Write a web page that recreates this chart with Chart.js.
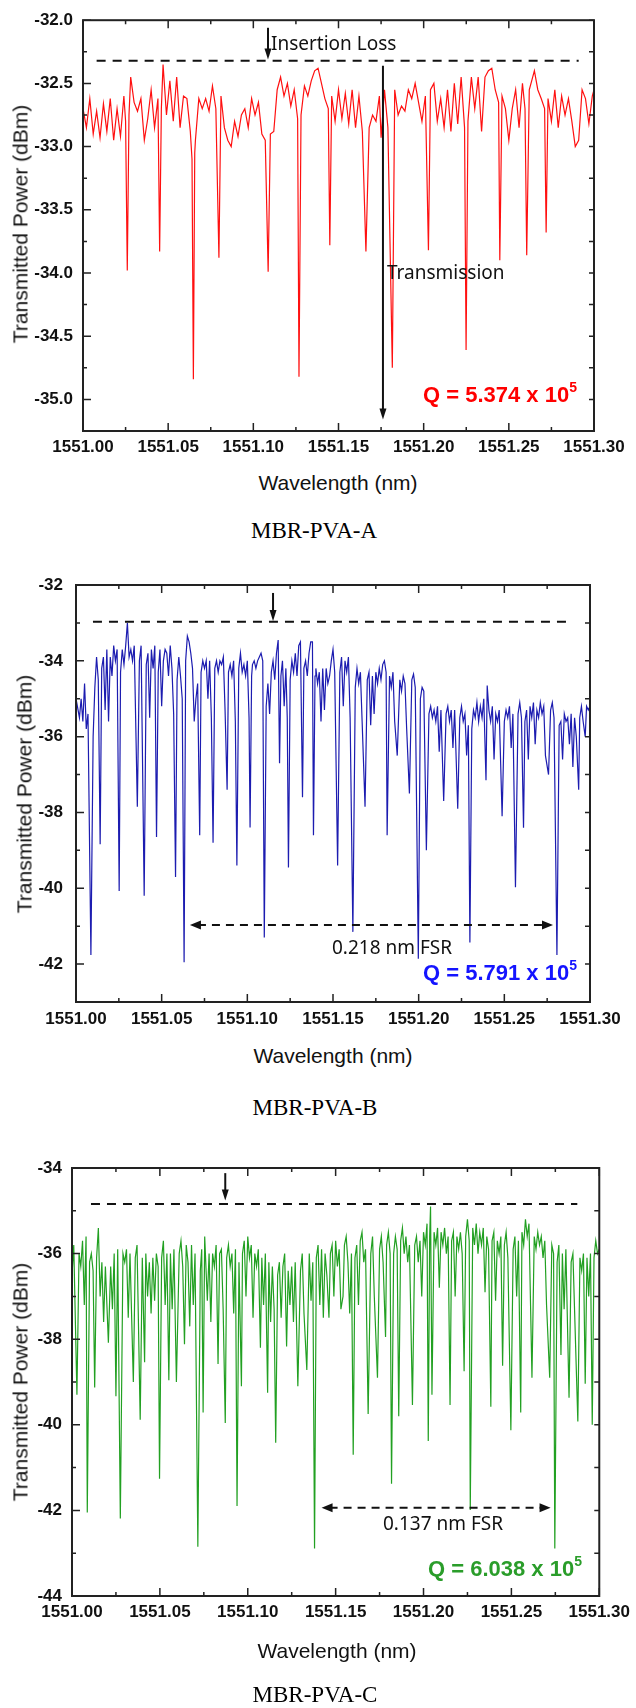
<!DOCTYPE html>
<html>
<head>
<meta charset="utf-8">
<script src="https://cdn.jsdelivr.net/npm/chart.js@4/dist/chart.umd.min.js"></script>
<style>
  body { margin: 0; width: 636px; height: 1708px; position: relative; background: #fff; overflow: hidden; }
  canvas { position: absolute; left: 0; }
  .txt { position: absolute; white-space: nowrap; line-height: 1; }
  .title { font-family: "Liberation Sans", Arial, sans-serif; font-size: 21px; color: #111; }
  .caption { font-family: "Liberation Serif", "Times New Roman", serif; font-size: 23px; color: #000; }
  .note { font-family: "Noto Sans", "Open Sans", sans-serif; font-size: 19px; color: #111; }
  .q { font-family: "Liberation Sans", Arial, sans-serif; font-size: 22px; font-weight: bold; }
  .q sup { font-size: 14px; position: relative; top: -2px; }
</style>
</head>
<body>
<canvas id="panelA" width="636" height="470" style="top:0px"></canvas>
<canvas id="panelB" width="636" height="480" style="top:560px"></canvas>
<canvas id="panelC" width="636" height="500" style="top:1140px"></canvas>
<script>
// ---- data ----
const xTickValues = [1551.00, 1551.05, 1551.10, 1551.15, 1551.20, 1551.25, 1551.30];
const yTicksA = [-35.0, -34.5, -34.0, -33.5, -33.0, -32.5, -32.0];
const yTicksB = [-42, -40, -38, -36, -34, -32];
const yTicksC = [-44, -42, -40, -38, -36, -34];

// MBR-PVA-A
const wavelengthA = [
  1551.000, 1551.002, 1551.004, 1551.006, 1551.008, 1551.010, 1551.012, 1551.014, 1551.016, 1551.018,
  1551.020, 1551.022, 1551.024, 1551.025, 1551.026, 1551.027, 1551.028, 1551.030, 1551.032, 1551.034,
  1551.036, 1551.038, 1551.040, 1551.042, 1551.044, 1551.045, 1551.046, 1551.047, 1551.049, 1551.051,
  1551.053, 1551.055, 1551.057, 1551.059, 1551.061, 1551.063, 1551.0640, 1551.0648, 1551.0656, 1551.066,
  1551.068, 1551.070, 1551.072, 1551.074, 1551.076, 1551.078, 1551.0798, 1551.081, 1551.083, 1551.085,
  1551.087, 1551.089, 1551.091, 1551.093, 1551.095, 1551.097, 1551.099, 1551.101, 1551.103, 1551.105,
  1551.107, 1551.1087, 1551.110, 1551.112, 1551.114, 1551.116, 1551.118, 1551.120, 1551.122, 1551.124,
  1551.126, 1551.1268, 1551.128, 1551.130, 1551.132, 1551.134, 1551.136, 1551.138, 1551.140, 1551.142,
  1551.144, 1551.1449, 1551.146, 1551.148, 1551.150, 1551.152, 1551.154, 1551.156, 1551.158, 1551.160,
  1551.162, 1551.164, 1551.1661, 1551.168, 1551.170, 1551.172, 1551.174, 1551.175, 1551.177, 1551.179,
  1551.1816, 1551.183, 1551.185, 1551.187, 1551.189, 1551.191, 1551.193, 1551.195, 1551.197, 1551.199,
  1551.201, 1551.2028, 1551.204, 1551.206, 1551.208, 1551.210, 1551.212, 1551.214, 1551.216, 1551.218,
  1551.220, 1551.222, 1551.224, 1551.2249, 1551.226, 1551.228, 1551.230, 1551.232, 1551.234, 1551.236,
  1551.238, 1551.240, 1551.242, 1551.244, 1551.2447, 1551.246, 1551.248, 1551.250, 1551.252, 1551.254,
  1551.256, 1551.258, 1551.2595, 1551.2605, 1551.262, 1551.264, 1551.265, 1551.267, 1551.269, 1551.271,
  1551.2719, 1551.273, 1551.275, 1551.277, 1551.279, 1551.281, 1551.283, 1551.285, 1551.287, 1551.289,
  1551.291, 1551.293, 1551.295, 1551.297, 1551.299, 1551.300
];
const powerA = [
  -32.70, -32.85, -32.62, -32.90, -32.72, -32.93, -32.66, -32.88, -32.62, -32.95,
  -32.70, -32.92, -32.60, -32.80, -33.98, -32.75, -32.45, -32.65, -32.72, -32.62,
  -32.95, -32.78, -32.55, -32.85, -32.62, -33.83, -32.70, -32.35, -32.75, -32.48,
  -32.80, -32.45, -32.85, -32.60, -32.62, -32.88, -33.10, -34.84, -33.05, -32.95,
  -32.62, -32.70, -32.62, -32.72, -32.52, -32.70, -33.88, -32.60, -32.85, -32.95,
  -33.00, -32.80, -32.92, -32.75, -32.70, -32.85, -32.62, -32.75, -32.65, -32.90,
  -32.95, -33.99, -32.90, -32.88, -32.55, -32.45, -32.60, -32.50, -32.68, -32.55,
  -32.78, -34.82, -32.75, -32.52, -32.60, -32.48, -32.40, -32.38, -32.50, -32.62,
  -32.70, -33.78, -32.60, -32.80, -32.55, -32.78, -32.58, -32.82, -32.55, -32.85,
  -32.60, -32.88, -33.83, -32.85, -32.75, -32.80, -32.60, -32.93, -32.55, -32.85,
  -34.75, -32.55, -32.75, -32.68, -32.72, -32.55, -32.62, -32.50, -32.65, -32.80,
  -32.60, -33.82, -32.55, -32.50, -32.80, -32.62, -32.85, -32.55, -32.88, -32.50,
  -32.82, -32.45, -32.85, -34.61, -32.80, -32.45, -32.70, -32.45, -32.88, -32.45,
  -32.40, -32.38, -32.55, -32.65, -33.90, -32.60, -32.70, -32.95, -32.70, -32.55,
  -32.85, -32.50, -32.70, -33.86, -32.55, -32.45, -32.40, -32.55, -32.62, -32.70,
  -33.68, -32.62, -32.80, -32.55, -32.85, -32.60, -32.75, -32.62, -32.80, -33.00,
  -32.95, -32.55, -32.62, -32.82, -32.60, -32.55
];

// MBR-PVA-B
const wavelengthB = [
  1551.000, 1551.002, 1551.003, 1551.004, 1551.005, 1551.006, 1551.007, 1551.0087, 1551.010, 1551.011,
  1551.012, 1551.013, 1551.0141, 1551.015, 1551.016, 1551.017, 1551.018, 1551.019, 1551.020, 1551.021,
  1551.022, 1551.023, 1551.024, 1551.0252, 1551.026, 1551.027, 1551.028, 1551.029, 1551.030, 1551.031,
  1551.032, 1551.033, 1551.034, 1551.0358, 1551.037, 1551.038, 1551.0398, 1551.041, 1551.042, 1551.043,
  1551.044, 1551.045, 1551.046, 1551.047, 1551.048, 1551.049, 1551.050, 1551.051, 1551.052, 1551.053,
  1551.054, 1551.055, 1551.056, 1551.057, 1551.0581, 1551.059, 1551.060, 1551.061, 1551.062, 1551.0631,
  1551.064, 1551.065, 1551.066, 1551.067, 1551.068, 1551.069, 1551.070, 1551.071, 1551.0722, 1551.073,
  1551.074, 1551.075, 1551.076, 1551.077, 1551.078, 1551.079, 1551.080, 1551.081, 1551.082, 1551.083,
  1551.084, 1551.085, 1551.086, 1551.087, 1551.0882, 1551.089, 1551.090, 1551.091, 1551.092, 1551.093,
  1551.0939, 1551.095, 1551.096, 1551.097, 1551.098, 1551.099, 1551.100, 1551.101, 1551.1016, 1551.1025,
  1551.103, 1551.104, 1551.105, 1551.106, 1551.107, 1551.108, 1551.109, 1551.1099, 1551.111, 1551.112,
  1551.113, 1551.114, 1551.115, 1551.116, 1551.117, 1551.118, 1551.1188, 1551.1196, 1551.1205, 1551.1215,
  1551.1225, 1551.1233, 1551.124, 1551.125, 1551.126, 1551.127, 1551.128, 1551.129, 1551.130, 1551.131,
  1551.1322, 1551.133, 1551.134, 1551.135, 1551.136, 1551.137, 1551.138, 1551.1386, 1551.1395, 1551.140,
  1551.141, 1551.142, 1551.143, 1551.144, 1551.145, 1551.146, 1551.147, 1551.148, 1551.149, 1551.150,
  1551.151, 1551.1527, 1551.154, 1551.155, 1551.156, 1551.157, 1551.158, 1551.159, 1551.160, 1551.1616,
  1551.163, 1551.164, 1551.165, 1551.166, 1551.167, 1551.1687, 1551.170, 1551.171, 1551.172, 1551.173,
  1551.174, 1551.175, 1551.176, 1551.177, 1551.178, 1551.179, 1551.180, 1551.181, 1551.1816, 1551.183,
  1551.184, 1551.185, 1551.186, 1551.1875, 1551.189, 1551.190, 1551.191, 1551.192, 1551.193, 1551.1946,
  1551.196, 1551.197, 1551.198, 1551.1998, 1551.201, 1551.202, 1551.203, 1551.2045, 1551.206, 1551.207,
  1551.208, 1551.209, 1551.210, 1551.211, 1551.212, 1551.213, 1551.2146, 1551.216, 1551.217, 1551.218,
  1551.219, 1551.220, 1551.221, 1551.2228, 1551.224, 1551.225, 1551.226, 1551.227, 1551.228, 1551.229,
  1551.2299, 1551.231, 1551.232, 1551.233, 1551.234, 1551.235, 1551.236, 1551.237, 1551.238, 1551.2393,
  1551.240, 1551.241, 1551.242, 1551.243, 1551.244, 1551.245, 1551.246, 1551.247, 1551.2487, 1551.250,
  1551.251, 1551.252, 1551.253, 1551.254, 1551.255, 1551.2565, 1551.258, 1551.259, 1551.260, 1551.2612,
  1551.262, 1551.263, 1551.264, 1551.265, 1551.266, 1551.267, 1551.268, 1551.269, 1551.270, 1551.271,
  1551.272, 1551.273, 1551.274, 1551.2758, 1551.277, 1551.278, 1551.279, 1551.2807, 1551.282, 1551.283,
  1551.284, 1551.285, 1551.286, 1551.287, 1551.288, 1551.289, 1551.290, 1551.291, 1551.292, 1551.2934,
  1551.294, 1551.295, 1551.296, 1551.2972, 1551.298, 1551.299, 1551.300
];
const powerB = [
  -35.0, -35.5, -35.0, -35.6, -34.6, -35.8, -35.4, -41.76, -36.0, -34.7,
  -33.9, -34.5, -38.84, -34.2, -33.9, -35.3, -33.7, -35.6, -33.9, -34.4,
  -33.6, -34.0, -33.7, -40.07, -34.3, -33.7, -34.1, -33.6, -33.0, -33.9,
  -33.7, -34.0, -33.6, -37.85, -34.0, -33.6, -40.2, -34.1, -33.8, -35.5,
  -33.7, -34.2, -33.6, -38.65, -34.3, -33.7, -35.2, -34.0, -33.7, -33.8,
  -34.4, -33.6, -34.2, -35.4, -39.7, -34.5, -33.9, -34.4, -35.0, -41.95,
  -34.0, -33.35, -33.5, -33.8, -34.2, -35.6, -35.0, -34.6, -38.6, -34.3,
  -34.0, -34.2, -34.0, -35.0, -34.0, -35.5, -38.8, -34.2, -34.0, -34.3,
  -34.0, -34.1, -33.9, -35.3, -37.4, -34.3, -34.1, -34.4, -34.0, -35.6,
  -39.4, -34.2, -33.8, -34.3, -34.1, -34.4, -34.0, -35.5, -38.4, -34.4,
  -34.1, -34.0, -34.2, -34.0, -33.9, -33.8, -34.0, -41.3, -35.2, -34.6,
  -35.4, -34.3, -34.0, -34.5, -33.8, -33.45, -36.7, -34.4, -34.0, -35.2,
  -34.2, -35.5, -39.45, -34.5, -34.0, -34.3, -33.8, -34.4, -33.6, -33.5,
  -37.6, -34.2, -34.0, -34.4, -33.8, -33.5, -33.5, -38.6, -34.4, -34.2,
  -34.6, -34.3, -35.6, -34.2, -35.3, -34.2, -34.6, -34.4, -34.0, -33.7,
  -34.3, -39.4, -34.3, -33.9, -35.2, -34.0, -34.3, -33.9, -35.5, -41.15,
  -34.7, -34.2, -34.6, -34.3, -35.6, -37.85, -34.5, -34.3, -35.7, -34.4,
  -35.4, -34.3, -34.6, -34.2, -34.5, -34.1, -34.0, -34.3, -38.6, -34.4,
  -34.7, -34.3, -35.6, -36.5, -34.5, -34.8, -34.4, -34.6, -35.8, -37.5,
  -34.5, -34.35, -34.7, -41.86, -35.0, -34.7, -34.8, -39.0, -35.4, -35.2,
  -35.5, -35.3, -35.6, -35.2, -36.4, -35.3, -37.7, -35.4, -35.2, -35.6,
  -35.3, -36.3, -35.3, -37.9, -35.5, -35.2, -35.6, -35.4, -36.5, -35.7,
  -41.43, -35.8, -35.3, -35.5, -35.1, -35.6, -35.2, -35.5, -35.0, -37.15,
  -34.65, -35.3, -35.6, -35.2, -36.6, -35.4, -35.6, -35.3, -38.1, -35.6,
  -35.3, -35.5, -35.2, -36.3, -35.4, -39.97, -35.4, -35.1, -35.5, -38.4,
  -35.6, -35.3, -36.6, -35.2, -35.5, -35.1, -36.2, -35.3, -35.5, -35.1,
  -35.4, -35.2, -36.5, -37.0, -35.3, -35.1, -35.5, -41.76, -35.7, -35.6,
  -36.6, -35.4, -35.6, -35.5, -36.2, -35.4, -36.8, -35.5, -36.0, -37.4,
  -35.5, -35.2, -35.6, -36.0, -35.2, -35.3, -35.2
];

// MBR-PVA-C
const wavelengthC = [
  1551.000, 1551.001, 1551.0028, 1551.004, 1551.005, 1551.006, 1551.007, 1551.008, 1551.0087, 1551.010,
  1551.011, 1551.012, 1551.0129, 1551.014, 1551.015, 1551.016, 1551.017, 1551.018, 1551.019, 1551.0207,
  1551.022, 1551.023, 1551.024, 1551.025, 1551.026, 1551.0275, 1551.029, 1551.030, 1551.031, 1551.032,
  1551.033, 1551.0349, 1551.036, 1551.037, 1551.0388, 1551.040, 1551.0413, 1551.042, 1551.043, 1551.044,
  1551.045, 1551.046, 1551.047, 1551.048, 1551.049, 1551.0498, 1551.051, 1551.052, 1551.053, 1551.054,
  1551.0551, 1551.056, 1551.057, 1551.058, 1551.0594, 1551.061, 1551.062, 1551.063, 1551.064, 1551.065,
  1551.066, 1551.067, 1551.068, 1551.069, 1551.070, 1551.0716, 1551.073, 1551.0738, 1551.0746, 1551.0755,
  1551.077, 1551.078, 1551.079, 1551.080, 1551.081, 1551.082, 1551.0831, 1551.084, 1551.085, 1551.086,
  1551.0872, 1551.088, 1551.089, 1551.090, 1551.091, 1551.092, 1551.093, 1551.0939, 1551.095, 1551.0964,
  1551.097, 1551.098, 1551.099, 1551.100, 1551.101, 1551.102, 1551.103, 1551.104, 1551.105, 1551.106,
  1551.1072, 1551.108, 1551.109, 1551.110, 1551.1113, 1551.112, 1551.113, 1551.114, 1551.115, 1551.1159,
  1551.117, 1551.118, 1551.119, 1551.120, 1551.121, 1551.1221, 1551.123, 1551.124, 1551.125, 1551.126,
  1551.127, 1551.1285, 1551.130, 1551.131, 1551.132, 1551.1336, 1551.135, 1551.136, 1551.137, 1551.138,
  1551.139, 1551.140, 1551.141, 1551.142, 1551.143, 1551.144, 1551.145, 1551.1462, 1551.147, 1551.148,
  1551.149, 1551.150, 1551.151, 1551.152, 1551.153, 1551.1542, 1551.155, 1551.156, 1551.157, 1551.158,
  1551.159, 1551.160, 1551.161, 1551.162, 1551.163, 1551.164, 1551.165, 1551.166, 1551.167, 1551.1685,
  1551.170, 1551.171, 1551.172, 1551.1738, 1551.175, 1551.176, 1551.177, 1551.1784, 1551.179, 1551.180,
  1551.181, 1551.1818, 1551.183, 1551.184, 1551.185, 1551.1859, 1551.187, 1551.188, 1551.189, 1551.190,
  1551.191, 1551.192, 1551.1937, 1551.195, 1551.196, 1551.197, 1551.198, 1551.199, 1551.200, 1551.201,
  1551.202, 1551.2027, 1551.2035, 1551.204, 1551.2048, 1551.206, 1551.207, 1551.208, 1551.209, 1551.210,
  1551.211, 1551.212, 1551.213, 1551.214, 1551.2151, 1551.216, 1551.217, 1551.218, 1551.219, 1551.220,
  1551.221, 1551.222, 1551.2231, 1551.224, 1551.225, 1551.226, 1551.2266, 1551.228, 1551.229, 1551.230,
  1551.231, 1551.232, 1551.233, 1551.234, 1551.235, 1551.236, 1551.237, 1551.2383, 1551.239, 1551.240,
  1551.241, 1551.242, 1551.243, 1551.244, 1551.245, 1551.246, 1551.247, 1551.248, 1551.2497, 1551.251,
  1551.252, 1551.253, 1551.254, 1551.2553, 1551.256, 1551.257, 1551.258, 1551.259, 1551.260, 1551.2617,
  1551.263, 1551.264, 1551.265, 1551.266, 1551.267, 1551.268, 1551.269, 1551.270, 1551.2718, 1551.273,
  1551.274, 1551.2747, 1551.276, 1551.277, 1551.2782, 1551.279, 1551.280, 1551.281, 1551.2828, 1551.284,
  1551.285, 1551.286, 1551.2878, 1551.289, 1551.290, 1551.291, 1551.292, 1551.293, 1551.294, 1551.295,
  1551.296, 1551.297, 1551.298, 1551.299, 1551.300
];
const powerC = [
  -36.5, -35.8, -39.3, -36.0, -36.3, -35.7, -37.2, -35.6, -42.05, -36.2,
  -36.0, -36.4, -39.13, -36.1, -35.4, -37.0, -36.2, -37.6, -36.3, -38.08,
  -36.3, -37.3, -36.0, -39.33, -35.9, -42.19, -36.0, -36.2, -35.9, -37.5,
  -36.0, -39.0, -36.1, -35.8, -39.88, -36.1, -38.54, -36.0, -37.0, -36.2,
  -37.4, -36.1, -37.1, -36.0, -36.3, -41.26, -36.1, -35.7, -37.2, -36.0,
  -38.96, -36.0, -37.3, -35.9, -39.0, -36.0, -35.7, -36.3, -38.12, -35.8,
  -36.2, -37.7, -35.8, -37.2, -36.0, -42.85, -36.4, -35.9, -39.71, -35.6,
  -37.1, -36.0, -37.6, -36.0, -36.3, -35.8, -38.58, -36.0, -35.9, -37.3,
  -39.96, -36.1, -35.8, -36.3, -36.0, -37.4, -35.9, -41.9, -36.2, -39.1,
  -36.0, -35.7, -37.0, -35.6, -36.1, -35.8, -37.5, -36.0, -36.3, -35.9,
  -38.2, -36.1, -37.2, -36.0, -39.25, -36.2, -37.6, -36.3, -37.3, -40.42,
  -36.5, -36.2, -37.5, -36.3, -36.0, -38.17, -36.4, -37.2, -36.3, -37.6,
  -36.2, -39.1, -36.4, -36.0, -37.4, -38.72, -36.0, -37.1, -36.2, -42.89,
  -36.1, -35.8, -37.2, -35.9, -37.5, -36.0, -36.5, -37.5, -36.0, -35.8,
  -37.0, -35.7, -36.3, -35.9, -37.3, -37.0, -35.8, -35.6, -36.2, -37.4,
  -36.0, -40.7, -36.1, -35.8, -37.2, -35.7, -35.5, -36.2, -35.9, -39.75,
  -36.0, -35.6, -37.0, -38.9, -35.9, -35.6, -36.2, -37.95, -35.8, -35.5,
  -36.0, -41.38, -36.0, -35.6, -35.9, -39.8, -35.7, -35.4, -36.0, -35.6,
  -36.2, -35.8, -39.54, -35.8, -35.6, -36.2, -35.7, -37.0, -35.5, -35.8,
  -35.3, -40.38, -35.6, -34.9, -39.3, -35.5, -35.8, -35.4, -36.8, -35.5,
  -35.8, -35.4, -36.0, -35.6, -39.54, -35.7, -35.5, -37.0, -35.6, -35.9,
  -35.5, -36.0, -38.75, -35.6, -35.2, -35.7, -41.99, -35.4, -35.8, -35.3,
  -36.0, -35.5, -35.8, -35.4, -36.9, -35.6, -35.9, -39.58, -35.7, -35.5,
  -37.1, -35.7, -36.0, -35.6, -38.62, -35.8, -35.5, -36.1, -40.13, -35.9,
  -35.6, -37.0, -35.7, -39.71, -35.5, -35.8, -35.2, -35.6, -35.3, -38.9,
  -35.6, -35.9, -35.5, -35.8, -35.6, -36.1, -35.7, -37.2, -38.9, -35.8,
  -36.0, -42.89, -36.2, -35.8, -38.37, -36.0, -37.3, -35.9, -39.37, -36.2,
  -36.0, -37.4, -39.92, -36.1, -36.4, -36.0, -39.04, -36.1, -37.0, -36.0,
  -40.0, -36.1, -35.7, -36.0, -35.9
];

// ---- panel drawing ----
const tickFont = { family: "'Liberation Sans', Arial, sans-serif", size: 17, weight: 'bold' };

function panelPlugin(p) {
  return {
    id: 'panelDeco' + p.id,
    afterDraw(chart) {
      const { ctx, chartArea: a } = chart;
      const x = chart.scales.x, y = chart.scales.y;
      ctx.save();
      // dashed insertion-loss level
      ctx.strokeStyle = '#111';
      ctx.lineWidth = 2;
      ctx.setLineDash([9, 7]);
      ctx.beginPath();
      ctx.moveTo(x.getPixelForValue(p.level.x0), y.getPixelForValue(p.level.y));
      ctx.lineTo(x.getPixelForValue(p.level.x1), y.getPixelForValue(p.level.y));
      ctx.stroke();
      // FSR double arrow
      if (p.fsr) {
        const yy = y.getPixelForValue(p.fsr.y);
        const xa = x.getPixelForValue(p.fsr.x0), xb = x.getPixelForValue(p.fsr.x1);
        ctx.setLineDash([8, 6]);
        ctx.beginPath();
        ctx.moveTo(xa + 8, yy);
        ctx.lineTo(xb - 8, yy);
        ctx.stroke();
        ctx.setLineDash([]);
        ctx.fillStyle = '#111';
        ctx.beginPath();
        ctx.moveTo(xa, yy); ctx.lineTo(xa + 11, yy - 4.5); ctx.lineTo(xa + 11, yy + 4.5); ctx.closePath();
        ctx.fill();
        ctx.beginPath();
        ctx.moveTo(xb, yy); ctx.lineTo(xb - 11, yy - 4.5); ctx.lineTo(xb - 11, yy + 4.5); ctx.closePath();
        ctx.fill();
      }
      // down arrows
      ctx.setLineDash([]);
      ctx.fillStyle = '#111';
      p.arrows.forEach(ar => {
        const xx = x.getPixelForValue(ar.x);
        const y0 = y.getPixelForValue(ar.y0), y1 = y.getPixelForValue(ar.y1);
        ctx.lineWidth = 2;
        ctx.beginPath();
        ctx.moveTo(xx, y0);
        ctx.lineTo(xx, y1 - 8);
        ctx.stroke();
        ctx.beginPath();
        ctx.moveTo(xx, y1); ctx.lineTo(xx - 3.5, y1 - 11); ctx.lineTo(xx + 3.5, y1 - 11); ctx.closePath();
        ctx.fill();
      });
      // frame and inward ticks
      ctx.strokeStyle = '#222';
      ctx.lineWidth = 2;
      ctx.strokeRect(a.left, a.top, a.right - a.left, a.bottom - a.top);
      ctx.lineWidth = 1.5;
      const xMinor = [];
      for (let i = 0; i < xTickValues.length - 1; i++) xMinor.push((xTickValues[i] + xTickValues[i + 1]) / 2);
      const yMinor = [];
      for (let i = 0; i < p.yTicks.length - 1; i++) yMinor.push((p.yTicks[i] + p.yTicks[i + 1]) / 2);
      ctx.beginPath();
      xTickValues.concat(xMinor).forEach((v, i) => {
        const len = i < xTickValues.length ? 8 : 4;
        const px = x.getPixelForValue(v);
        ctx.moveTo(px, a.bottom); ctx.lineTo(px, a.bottom - len);
        ctx.moveTo(px, a.top); ctx.lineTo(px, a.top + len);
      });
      p.yTicks.concat(yMinor).forEach((v, i) => {
        const len = i < p.yTicks.length ? 8 : 4;
        const py = y.getPixelForValue(v);
        ctx.moveTo(a.left, py); ctx.lineTo(a.left + len, py);
        ctx.moveTo(a.right, py); ctx.lineTo(a.right - 5, py);
      });
      ctx.stroke();
      ctx.restore();
    }
  };
}

function buildPanel(p) {
  const canvas = document.getElementById(p.id);
  const points = p.wl.map((w, i) => ({ x: w, y: p.pw[i] }));
  const xAxisH = p.canvasTop + canvas.height - p.area.bottom;
  new Chart(canvas, {
    type: 'line',
    data: { datasets: [{ data: points, borderColor: p.color, borderWidth: 1.2, pointRadius: 0, tension: 0, fill: false }] },
    options: {
      responsive: false,
      animation: false,
      devicePixelRatio: 1,
      layout: { padding: { left: 0, right: 636 - p.area.right, top: p.area.top - p.canvasTop, bottom: 0 } },
      plugins: { legend: { display: false }, tooltip: { enabled: false } },
      scales: {
        x: {
          type: 'linear', min: 1551.0, max: 1551.3,
          afterBuildTicks: s => { s.ticks = xTickValues.map(v => ({ value: v })); },
          afterFit: s => { s.height = xAxisH; },
          grid: { display: false, drawTicks: false },
          border: { display: false },
          ticks: { font: tickFont, color: '#111', padding: p.xPad, maxRotation: 0, autoSkip: false,
                   callback: v => v.toFixed(2) }
        },
        y: {
          min: p.yMin, max: p.yMax,
          afterBuildTicks: s => { s.ticks = p.yTicks.map(v => ({ value: v })); },
          afterFit: s => { s.width = p.area.left; },
          grid: { display: false, drawTicks: false },
          border: { display: false },
          ticks: { font: tickFont, color: '#111', padding: p.yPad, autoSkip: false,
                   callback: v => v.toFixed(p.yDigits) }
        }
      }
    },
    plugins: [panelPlugin(p)]
  });
}

buildPanel({
  id: 'panelA', canvasTop: 0, area: { left: 83, right: 594, top: 17, bottom: 431 },
  wl: wavelengthA, pw: powerA, color: '#ff1010', yMin: -35.25, yMax: -32.0, yTicks: yTicksA, yDigits: 1,
  xPad: 6, yPad: 10,
  level: { y: -32.32, x0: 1551.008, x1: 1551.291 },
  arrows: [{ x: 1551.1086, y0: -32.06, y1: -32.31 }, { x: 1551.1761, y0: -32.36, y1: -35.16 }]
});
buildPanel({
  id: 'panelB', canvasTop: 560, area: { left: 76, right: 590, top: 585, bottom: 1002 },
  wl: wavelengthB, pw: powerB, color: '#1c1cb0', yMin: -43, yMax: -32, yTicks: yTicksB, yDigits: 0,
  xPad: 7, yPad: 13,
  level: { y: -32.97, x0: 1551.0099, x1: 1551.287 },
  arrows: [{ x: 1551.115, y0: -32.21, y1: -32.95 }],
  fsr: { y: -40.97, x0: 1551.0665, x1: 1551.2784 }
});
buildPanel({
  id: 'panelC', canvasTop: 1140, area: { left: 72, right: 602, top: 1168, bottom: 1596 },
  wl: wavelengthC, pw: powerC, color: '#22a022', yMin: -44, yMax: -34, yTicks: yTicksC, yDigits: 0,
  xPad: 6, yPad: 10,
  level: { y: -34.84, x0: 1551.0108, x1: 1551.2875 },
  arrows: [{ x: 1551.0872, y0: -34.12, y1: -34.76 }],
  fsr: { y: -41.94, x0: 1551.142, x1: 1551.2723 }
});

// ---- text labels ----
function addText(html, x, y, cls, anchor, extra) {
  const d = document.createElement('div');
  d.className = 'txt ' + cls;
  d.innerHTML = html;
  d.style.left = x + 'px';
  d.style.top = y + 'px';
  d.style.transform = anchor === 'left' ? 'translate(0,-50%)' : 'translate(-50%,-50%)';
  if (extra) Object.assign(d.style, extra);
  document.body.appendChild(d);
}

addText('Wavelength (nm)', 338, 482, 'title', 'center');
addText('Wavelength (nm)', 333, 1055, 'title', 'center');
addText('Wavelength (nm)', 337, 1650, 'title', 'center');
addText('Transmitted Power (dBm)', 20, 224, 'title', 'center', { transform: 'translate(-50%,-50%) rotate(-90deg)' });
addText('Transmitted Power (dBm)', 24, 794, 'title', 'center', { transform: 'translate(-50%,-50%) rotate(-90deg)' });
addText('Transmitted Power (dBm)', 20, 1382, 'title', 'center', { transform: 'translate(-50%,-50%) rotate(-90deg)' });
addText('MBR-PVA-A', 314, 530, 'caption', 'center');
addText('MBR-PVA-B', 315, 1107, 'caption', 'center');
addText('MBR-PVA-C', 315, 1694, 'caption', 'center');
addText('Insertion Loss', 271, 43, 'note', 'left');
addText('Transmission', 387, 272, 'note', 'left');
addText('0.218 nm FSR', 332, 947, 'note', 'left');
addText('0.137 nm FSR', 383, 1523, 'note', 'left');
addText('Q = 5.374 x 10<sup>5</sup>', 423, 394, 'q', 'left', { color: '#ff0000' });
addText('Q = 5.791 x 10<sup>5</sup>', 423, 972, 'q', 'left', { color: '#1414ff' });
addText('Q = 6.038 x 10<sup>5</sup>', 428, 1568, 'q', 'left', { color: '#2a9d2a' });
</script>
</body>
</html>
